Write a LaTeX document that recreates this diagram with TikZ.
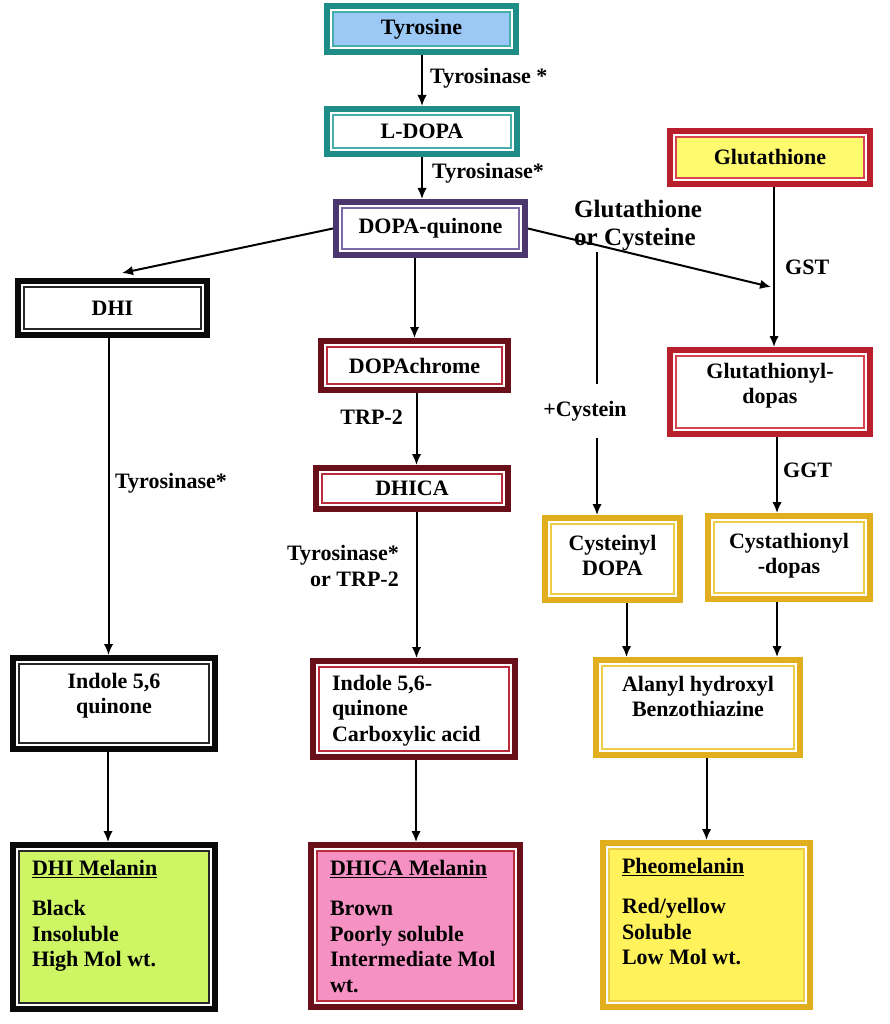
\documentclass[tikz,border=0pt]{standalone}
\usepackage{fontspec}
\setmainfont{Liberation Serif}
\usetikzlibrary{arrows.meta,calc}
\definecolor{tealO}{RGB}{30,140,135}\definecolor{tealI}{RGB}{70,175,170}
\definecolor{purO}{RGB}{75,55,110}\definecolor{purI}{RGB}{125,105,165}
\definecolor{blkO}{RGB}{10,10,10}\definecolor{blkI}{RGB}{40,40,40}
\definecolor{redO}{RGB}{185,30,45}\definecolor{redI}{RGB}{215,70,80}
\definecolor{marO}{RGB}{105,15,25}\definecolor{marI}{RGB}{185,45,60}
\definecolor{golO}{RGB}{225,175,30}\definecolor{golI}{RGB}{238,205,70}
\definecolor{blueF}{RGB}{155,200,245}
\definecolor{yelF}{RGB}{255,250,110}
\definecolor{limeF}{RGB}{205,245,100}
\definecolor{pinkF}{RGB}{245,145,195}
\definecolor{pheoF}{RGB}{255,242,90}
\tikzset{
  box/.style={rectangle, line width=6pt, outer sep=3pt, inner sep=0pt, align=center,
    font=\fontsize{22}{25.5}\selectfont\bfseries},
  arr/.style={line width=2pt, -{Latex[length=11pt,width=9.5pt]}},
  ln/.style={line width=2pt},
  lbl/.style={inner sep=0pt, font=\fontsize{22}{25.5}\selectfont\bfseries},
}
\newcommand\frm[2]{%
  \draw[white,line width=1.6pt] ([xshift=7pt,yshift=-7pt]#1.north west) rectangle ([xshift=-7pt,yshift=7pt]#1.south east);
  \draw[#2,line width=2pt] ([xshift=9pt,yshift=-9pt]#1.north west) rectangle ([xshift=-9pt,yshift=9pt]#1.south east);}
% name, colour set, fill, x1, y1, x2, y2, text
\newcommand\bx[8]{%
  \node[box, draw=#2O, fill=#3, minimum width={#6-#4-6}, minimum height={#7-#5-6}] (#1) at ({(#4+#6)/2},{(#5+#7)/2}) {#8};
  \frm{#1}{#2I}}
% name, colour set, fill, x1, y1, x2, y2, top pad, text
\newcommand\bxt[9]{%
  \node[box, draw=#2O, fill=#3, minimum width={#6-#4-6}, minimum height={#7-#5-6}] (#1) at ({(#4+#6)/2},{(#5+#7)/2})
    {\parbox[c][\dimexpr #7pt-#5pt-6pt-#8pt-#8pt\relax][t]{\dimexpr #6pt-#4pt-44pt\relax}{#9}};
  \frm{#1}{#2I}}
\begin{document}
\begin{tikzpicture}[x=1pt,y=-1pt]
\fill[white] (0,0) rectangle (889,1024);
\path[use as bounding box] (0,0) rectangle (889,1024);

% boxes
\bx{tyr}{teal}{blueF}{324}{3}{519}{55}{Tyrosine}
\bx{ldopa}{teal}{white}{324}{106}{520}{157}{L-DOPA}
\bx{dq}{pur}{white}{333}{199}{528}{258}{DOPA-quinone}
\bx{dhi}{blk}{white}{15}{278}{210}{338}{DHI}
\bx{glu}{red}{yelF}{667}{128}{873}{187}{Glutathione}
\bx{dc}{mar}{white}{318}{338}{511}{393}{DOPAchrome}
\bxt{gly}{red}{white}{667}{347}{873}{437}{13}{\centering Glutathionyl-\\dopas}
\bx{dhica}{mar}{white}{313}{465}{511}{512}{DHICA}
\bxt{cyd}{gol}{white}{542}{515}{683}{603}{17}{\centering Cysteinyl\\DOPA}
\bxt{cyst}{gol}{white}{705}{513}{873}{602}{17}{\centering Cystathionyl\\-dopas}
\bxt{indq}{blk}{white}{10}{655}{218}{752}{15}{\centering Indole 5,6\\quinone}
\bxt{icarb}{mar}{white}{310}{658}{518}{760}{14}{\raggedright Indole 5,6-\\quinone\\Carboxylic acid}
\bxt{ala}{gol}{white}{593}{657}{803}{758}{16}{\centering Alanyl hydroxyl\\Benzothiazine}
\bxt{dhim}{blk}{limeF}{10}{842}{218}{1012}{15}{\raggedright\underline{DHI Melanin}\\[15pt]Black\\Insoluble\\High Mol wt.}
\bxt{dhicam}{mar}{pinkF}{308}{842}{523}{1010}{15}{\raggedright\underline{DHICA Melanin}\\[15pt]Brown\\Poorly soluble\\Intermediate Mol\\wt.}
\bxt{pheo}{gol}{pheoF}{600}{840}{813}{1010}{15}{\raggedright\underline{Pheomelanin}\\[15pt]Red/yellow\\Soluble\\Low Mol wt.}

% labels
\node[lbl, anchor=west] (l1) at (430,78) {Tyrosinase *};
\node[lbl, anchor=west] (l2) at (432,173) {Tyrosinase*};
\node[anchor=west, align=left, inner sep=0pt, font=\fontsize{25}{28}\selectfont\bfseries] (gc) at (574,226) {Glutathione\\or Cysteine};
\node[lbl, anchor=west] (gst) at (785,267) {GST};
\node[lbl, anchor=west] (ggt) at (783,470) {GGT};
\node[lbl, anchor=east] (trp) at (403,417) {TRP-2};
\node[lbl, anchor=east, align=right] (tyt) at (399,566) {Tyrosinase*\\or TRP-2};
\node[lbl, anchor=west] (l3) at (115,483) {Tyrosinase*};
\node[inner sep=0pt, minimum height=54pt, font=\fontsize{22}{26}\selectfont\bfseries] (pc) at (585,411) {+Cystein};

% joins
\coordinate (dhij) at (122,273);
\coordinate (gsj) at (771,287);
\coordinate (gcl) at (597,252);

% connectors
\draw[arr] (tyr.south -| ldopa) -- (ldopa.north);
\draw[arr] (ldopa.south) -- (ldopa.south |- dq.north);
\draw[arr] (dq.west) -- (dhij);
\draw[arr] (dq.east) -- (gsj);
\draw[arr] (dc.north |- dq.south) -- (dc.north);
\draw[arr] ([xshift=2pt]dc.south) -- ([xshift=2pt]dc.south |- dhica.north);
\draw[arr] ([xshift=2pt]dc.south |- dhica.south) -- ([xshift=2pt]dc.south |- icarb.north);
\draw[arr] ([xshift=2pt]icarb.south) -- ([xshift=2pt]icarb.south |- dhicam.north);
\draw[arr] ([xshift=-4pt]dhi.south) -- ([xshift=-4pt]dhi.south |- indq.north);
\draw[arr] ([xshift=-6pt]indq.south) -- ([xshift=-6pt]indq.south |- dhim.north);
\draw[arr] ([xshift=4pt]glu.south) -- ([xshift=4pt]glu.south |- gly.north);
\draw[arr] ([xshift=7pt]gly.south) -- ([xshift=7pt]gly.south |- cyst.north);
\draw[ln] (gcl) -- (gcl |- pc.north);
\draw[arr] (gcl |- pc.south) -- (gcl |- cyd.north);
\draw[arr] ([xshift=14pt]cyd.south) -- ([xshift=14pt]cyd.south |- ala.north);
\draw[arr] ([xshift=-12pt]cyst.south) -- ([xshift=-12pt]cyst.south |- ala.north);
\draw[arr] (pheo.north |- ala.south) -- (pheo.north);
\end{tikzpicture}
\end{document}
